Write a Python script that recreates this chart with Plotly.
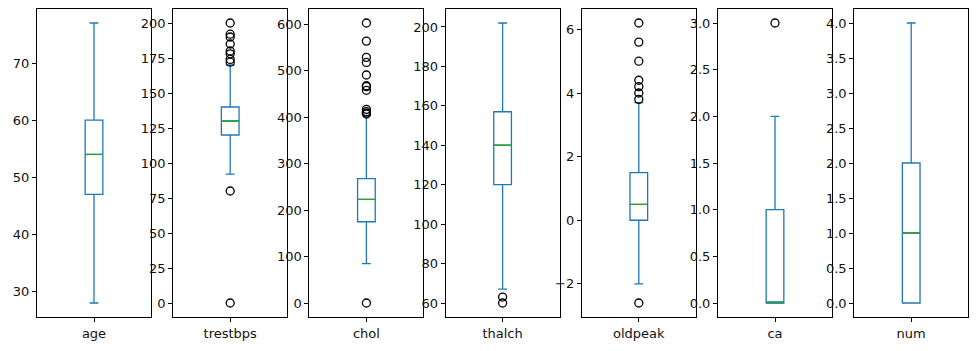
import plotly.graph_objects as go

# ---- data ----
names = ["age", "trestbps", "chol", "thalch", "oldpeak", "ca", "num"]
q1 = [47, 120, 175, 120, 0.0, 0.0, 0.0]
median = [54, 130, 223, 140, 0.5, 0.0, 1.0]
q3 = [60, 140, 268, 157, 1.5, 1.0, 2.0]
lower_whisker = [28, 92, 85, 67, -2.0, 0.0, 0.0]
upper_whisker = [77, 170, 404, 202, 3.7, 2.0, 4.0]
outliers = [
    [],
    [172, 174, 178, 180, 185, 190, 192, 200, 80, 0],
    [603, 564, 529, 518, 491, 468, 466, 458, 417, 412, 409, 407, 0],
    [63, 60],
    [6.2, 5.6, 5.0, 4.4, 4.2, 4.0, 3.8, -2.6],
    [3.0],
    [],
]
dticks = [10, 25, 100, 20, 2, 0.5, 0.5]
tickformats = ["", "", "", "", "", ".1f", ".1f"]

# ---- layout constants ----
W, H = 977, 351
left0, panel_w, step = 37, 114, 136.2
top_px, bottom_px = 9, 317
box_w = 0.155
blue, green = "#1f77b4", "#2ca02c"
font = dict(family="DejaVu Sans", size=13, color="#111111")

fig = go.Figure()
layout = dict(
    width=W, height=H, margin=dict(l=0, r=0, t=0, b=0),
    paper_bgcolor="white", plot_bgcolor="white", showlegend=False,
    font=font,
)

for i, name in enumerate(names):
    xa = "x" if i == 0 else f"x{i+1}"
    ya = "y" if i == 0 else f"y{i+1}"
    fig.add_trace(go.Box(
        x=[1], q1=[q1[i]], median=[median[i]], q3=[q3[i]],
        lowerfence=[lower_whisker[i]], upperfence=[upper_whisker[i]],
        width=box_w, whiskerwidth=0.5, boxpoints=False,
        line=dict(color=blue, width=1.3), fillcolor="rgba(0,0,0,0)",
        xaxis=xa, yaxis=ya, hoverinfo="skip",
    ))
    # median line in green
    fig.add_trace(go.Scatter(
        x=[1 - box_w / 2, 1 + box_w / 2], y=[median[i], median[i]],
        mode="lines", line=dict(color=green, width=1.3),
        xaxis=xa, yaxis=ya, hoverinfo="skip",
    ))
    if outliers[i]:
        fig.add_trace(go.Scatter(
            x=[1] * len(outliers[i]), y=outliers[i], mode="markers",
            marker=dict(symbol="circle-open", size=8, color="black",
                        line=dict(width=1.3, color="black")),
            xaxis=xa, yaxis=ya, hoverinfo="skip",
        ))
    allv = [lower_whisker[i], upper_whisker[i]] + outliers[i]
    lo, hi = min(allv), max(allv)
    pad = (hi - lo) * 0.05
    x0 = (left0 + step * i) / W
    x1 = (left0 + step * i + panel_w) / W
    axis_common = dict(showline=True, linecolor="black", linewidth=1, mirror=True,
                       showgrid=False, zeroline=False, ticks="outside",
                       ticklen=4, tickwidth=1, tickcolor="black",
                       tickfont=font)
    layout["xaxis" if i == 0 else f"xaxis{i+1}"] = dict(
        domain=[x0, x1], range=[0.5, 1.5], anchor=ya,
        tickmode="array", tickvals=[1], ticktext=[name], **axis_common)
    layout["yaxis" if i == 0 else f"yaxis{i+1}"] = dict(
        domain=[1 - bottom_px / H, 1 - top_px / H], range=[lo - pad, hi + pad],
        anchor=xa, dtick=dticks[i], tickformat=tickformats[i], **axis_common)

fig.update_layout(**layout)
fig.write_html("out.html")
